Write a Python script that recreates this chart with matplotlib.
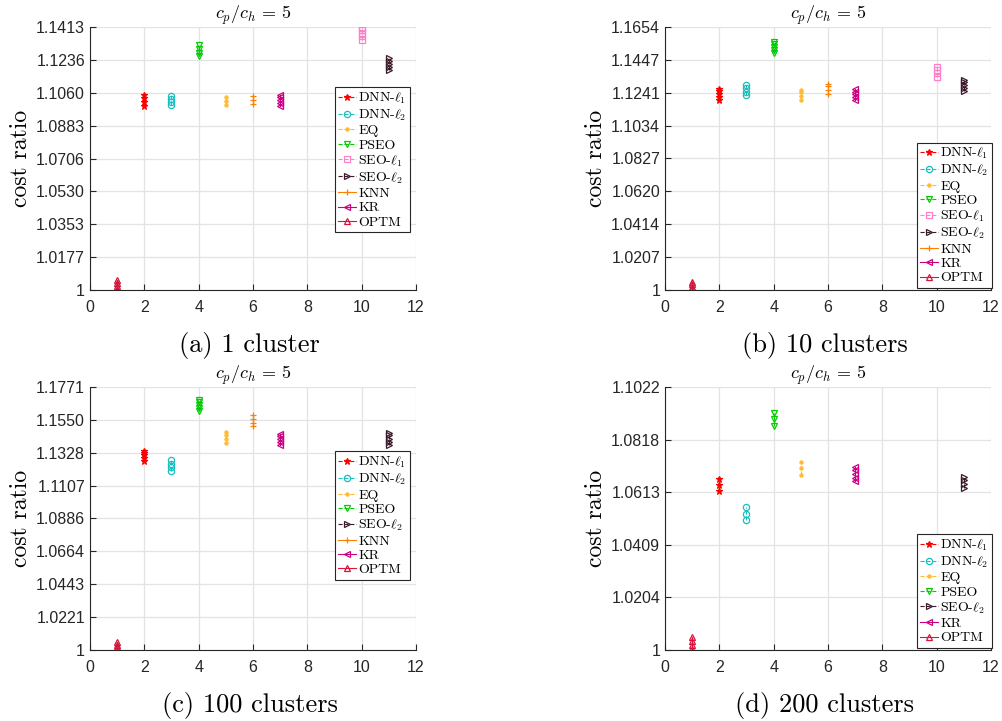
import matplotlib
matplotlib.use("Agg")
import matplotlib.pyplot as plt

plt.rcParams['font.family'] = ['Liberation Sans', 'DejaVu Sans']
plt.rcParams['mathtext.fontset'] = 'cm'
plt.rcParams['axes.unicode_minus'] = False

# series styles (MATLAB-like)
names = ['DNN-$\\ell_1$', 'DNN-$\\ell_2$', 'EQ', 'PSEO', 'SEO-$\\ell_1$', 'SEO-$\\ell_2$', 'KNN', 'KR', 'OPTM']
xpos = [2, 3, 5, 4, 10, 11, 6, 7, 1]
colors = ['#ff0000', '#19bfbf', '#ffbb33', '#00cc00', '#ff80c8', '#3a1a2a', '#ff8000', '#cc0080', '#d9143a']
markers = ['*', 'o', '.', 'v', 's', '>', '+', '<', '^']
lstyles = ['--', '--', '--', '--', '--', '--', '-', '-', '-']

# y tick labels per panel
yticks_a = ['1', '1.0177', '1.0353', '1.0530', '1.0706', '1.0883', '1.1060', '1.1236', '1.1413']
yticks_b = ['1', '1.0207', '1.0414', '1.0620', '1.0827', '1.1034', '1.1241', '1.1447', '1.1654']
yticks_c = ['1', '1.0221', '1.0443', '1.0664', '1.0886', '1.1107', '1.1328', '1.1550', '1.1771']
yticks_d = ['1', '1.0204', '1.0409', '1.0613', '1.0818', '1.1022']

# values per panel: series index -> list of cost ratios
vals_a = {
    0: [1.0990, 1.1010, 1.1030, 1.1047],
    1: [1.0996, 1.1012, 1.1028, 1.1044],
    2: [1.0996, 1.1015, 1.1038],
    3: [1.1255, 1.1275, 1.1295, 1.1314],
    4: [1.1345, 1.1362, 1.1380, 1.1396, 1.1410],
    5: [1.1180, 1.1197, 1.1215, 1.1232, 1.1248],
    6: [1.0997, 1.1020, 1.1043],
    7: [1.0990, 1.1005, 1.1020, 1.1035, 1.1048],
    8: [1.0005, 1.0020, 1.0035, 1.0052],
}
vals_b = {
    0: [1.1197, 1.1215, 1.1232, 1.1250, 1.1266],
    1: [1.1224, 1.1247, 1.1270, 1.1292],
    2: [1.1197, 1.1220, 1.1242, 1.1260],
    3: [1.1491, 1.1510, 1.1528, 1.1545, 1.1560],
    4: [1.1340, 1.1362, 1.1384, 1.1402],
    5: [1.1249, 1.1268, 1.1287, 1.1305, 1.1319],
    6: [1.1235, 1.1258, 1.1280, 1.1298],
    7: [1.1193, 1.1212, 1.1230, 1.1248, 1.1266],
    8: [1.0005, 1.0020, 1.0035, 1.0052],
}
vals_c = {
    0: [1.1274, 1.1292, 1.1310, 1.1326, 1.1340],
    1: [1.1208, 1.1232, 1.1255, 1.1277],
    2: [1.1394, 1.1420, 1.1445, 1.1468],
    3: [1.1608, 1.1628, 1.1648, 1.1667, 1.1683],
    5: [1.1382, 1.1403, 1.1424, 1.1445, 1.1463],
    6: [1.1506, 1.1532, 1.1558, 1.1581],
    7: [1.1382, 1.1402, 1.1422, 1.1441, 1.1458],
    8: [1.0005, 1.0020, 1.0035, 1.0052],
}
vals_d = {
    0: [1.0616, 1.0641, 1.0665],
    1: [1.0506, 1.0530, 1.0554],
    2: [1.0681, 1.0706, 1.0730],
    3: [1.0869, 1.0897, 1.0923],
    5: [1.0631, 1.0646, 1.0661, 1.0674],
    7: [1.0655, 1.0670, 1.0685, 1.0700, 1.0713],
    8: [1.0005, 1.0020, 1.0035, 1.0052],
}

panels = [
    (vals_a, yticks_a, '(a) 1 cluster', [0.0897, 0.5978, 0.325, 0.3648], ('upper right', (0.982, 0.772))),
    (vals_b, yticks_b, '(b) 10 clusters', [0.663, 0.5978, 0.325, 0.3648], ('lower right', (1.003, 0.008))),
    (vals_c, yticks_c, '(c) 100 clusters', [0.0897, 0.0985, 0.325, 0.3647], ('upper right', (0.982, 0.755))),
    (vals_d, yticks_d, '(d) 200 clusters', [0.663, 0.0985, 0.325, 0.3647], ('lower right', (1.003, 0.008))),
]

fig = plt.figure(figsize=(10.03, 7.21), dpi=100)

for vals, ylabels, caption, rect, (lloc, lanchor) in panels:
    ax = fig.add_axes(rect)
    for i in vals:
        y = vals[i]
        ax.plot([xpos[i]] * len(y), y, linestyle=lstyles[i], color=colors[i],
                marker=markers[i], markersize=4.5,
                markerfacecolor='none' if markers[i] in 'osv><^' else colors[i],
                markeredgewidth=0.9, linewidth=0.8, label=names[i])
    yt = [float(t) for t in ylabels]
    ax.set_xlim(0, 12)
    ax.set_ylim(yt[0], yt[-1])
    ax.set_xticks(range(0, 13, 2))
    ax.set_yticks(yt)
    ax.set_yticklabels(ylabels)
    ax.grid(True, color='#e3e3e3', linewidth=0.9)
    ax.set_axisbelow(True)
    for s in ['top', 'right']:
        ax.spines[s].set_visible(False)
    for s in ['left', 'bottom']:
        ax.spines[s].set_color('#262626')
        ax.spines[s].set_linewidth(0.8)
    ax.tick_params(direction='in', length=4, labelsize=11.5, colors='#262626', width=0.8)
    ax.tick_params(axis='x', pad=7.5)
    ax.set_ylabel('cost ratio', fontfamily='cmr10', fontsize=17, labelpad=3)
    ax.set_title('$c_p/c_h\\, =\\, 5$', fontsize=13, pad=3)
    # caption sits about 55 px below the x axis
    ax.text(0.49, -0.21, caption, transform=ax.transAxes, ha='center', va='center',
            fontfamily='cmr10', fontsize=19)
    leg = ax.legend(loc=lloc, bbox_to_anchor=lanchor, prop={'family': 'cmr10', 'size': 10},
                    handlelength=1.3, handletextpad=0.15, labelspacing=0.12, borderpad=0.25,
                    borderaxespad=0.0, fancybox=False, framealpha=1, edgecolor='#262626')
    leg.get_frame().set_linewidth(0.8)

fig.savefig('out.png', dpi=100)
